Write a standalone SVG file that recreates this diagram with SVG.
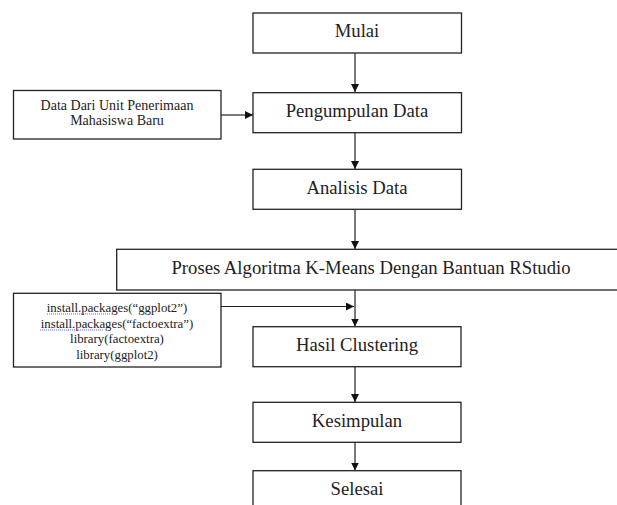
<svg xmlns="http://www.w3.org/2000/svg" width="617" height="505" viewBox="0 0 617 505">
<style>
.box{fill:#fff;stroke:#222;stroke-width:1.3}
text{font-family:'Liberation Serif','Times New Roman','DejaVu Serif',serif;fill:#222;text-anchor:middle}
.t{font-size:18.7px}
.s{font-size:14px}
.c{font-size:12.8px}
.ln{stroke:#222;stroke-width:1.2;fill:none;marker-end:url(#ah)}
.sp{stroke:#5566ff;stroke-width:1;stroke-dasharray:1 1;fill:none}
</style>
<defs>
<marker id="ah" markerWidth="10" markerHeight="10" refX="8" refY="4" orient="auto" markerUnits="userSpaceOnUse">
<path d="M0,0 L8,4 L0,8 Z" fill="#111"/>
</marker>
</defs>
<rect width="617" height="505" fill="#fff"/>
<g id="connectors">
<line class="ln" x1="355" y1="53" x2="355" y2="92"/>
<line class="ln" x1="221" y1="115" x2="253" y2="115"/>
<line class="ln" x1="355" y1="133" x2="355" y2="169"/>
<line class="ln" x1="355" y1="209.5" x2="355" y2="249"/>
<line class="ln" x1="355" y1="290" x2="355" y2="326.5"/>
<line class="ln" x1="221" y1="306.5" x2="354" y2="306.5"/>
<line class="ln" x1="355" y1="367" x2="355" y2="402"/>
<line class="ln" x1="355" y1="442.5" x2="355" y2="470.5"/>
</g>
<g id="mulai">
<rect class="box" x="253" y="13" width="208.5" height="40"/>
<text class="t" x="357" y="37">Mulai</text>
</g>
<g id="data-source">
<rect class="box" x="13.5" y="90.5" width="207.5" height="48.5"/>
<text class="s" x="117" y="109.5">Data Dari Unit Penerimaan</text>
<text class="s" x="117" y="124.5">Mahasiswa Baru</text>
</g>
<g id="pengumpulan">
<rect class="box" x="253" y="92.7" width="208.5" height="40"/>
<text class="t" x="357" y="116.5">Pengumpulan Data</text>
</g>
<g id="analisis">
<rect class="box" x="253" y="169.3" width="208.5" height="40"/>
<text class="t" x="357" y="193.5">Analisis Data</text>
</g>
<g id="proses">
<rect class="box" x="116.7" y="249.3" width="510" height="40.7"/>
<text class="t" x="371" y="273.5">Proses Algoritma K-Means Dengan Bantuan RStudio</text>
</g>
<g id="packages">
<rect class="box" x="13.5" y="293.3" width="207.5" height="73.7"/>
<text class="c" x="117" y="311.5">install.packages(“ggplot2”)</text>
<text class="c" x="117" y="327.5">install.packages(“factoextra”)</text>
<text class="c" x="117" y="343">library(factoextra)</text>
<text class="c" x="117" y="359">library(ggplot2)</text>
<path class="sp" d="M47,314 H110 M40,330 H104"/>
</g>
<g id="hasil">
<rect class="box" x="253" y="326.7" width="208" height="40"/>
<text class="t" x="357" y="350.5">Hasil Clustering</text>
</g>
<g id="kesimpulan">
<rect class="box" x="253" y="402.3" width="208" height="40"/>
<text class="t" x="357" y="426.5">Kesimpulan</text>
</g>
<g id="selesai">
<rect class="box" x="253" y="470.7" width="208" height="40"/>
<text class="t" x="357" y="494.5">Selesai</text>
</g>
</svg>
